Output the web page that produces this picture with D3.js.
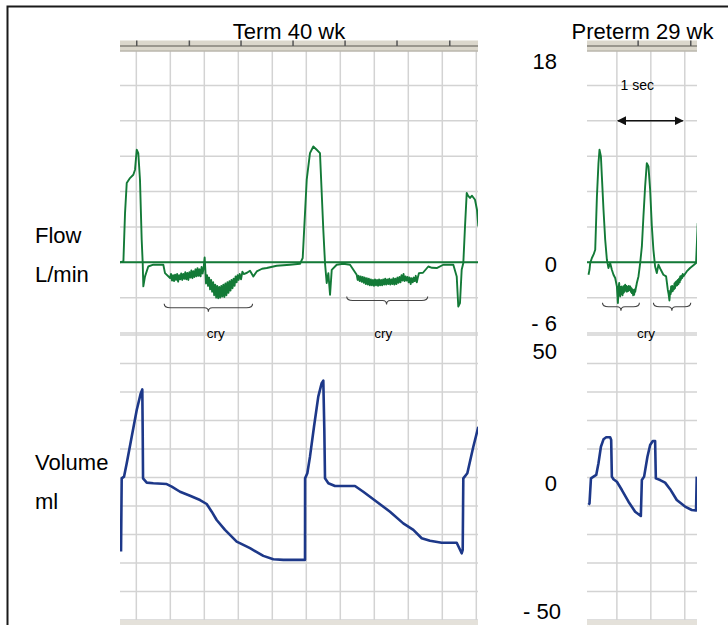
<!DOCTYPE html>
<head>
<meta charset="utf-8">
<style>
    body { margin: 0; background: #fff; }
    text { font-family: "Liberation Sans", Arial, sans-serif; fill: #000; }
    .grid line { stroke: #d3d3d3; stroke-width: 1.5; }
    .flow { fill: none; stroke: #137a37; stroke-width: 1.9; stroke-linejoin: round; }
    .volume { fill: none; stroke: #1d3889; stroke-width: 2.6; stroke-linejoin: round; }
    .brace { fill: none; stroke: #444; stroke-width: 1.1; }
</style>
</head>
<body>
    <script src="https://d3js.org/d3.v7.min.js"></script>
    <script>

    ///////////////////////////
    ////////// DATA ///////////
    ///////////////////////////

    // [time (s), flow (L/min)]
    const termFlow = [
        [-0.24,0],[-0.19,0.07],[-0.166,4.17],[-0.141,6.72],[-0.093,7.14],[-0.044,7.42],[-0.019,7.85],
        [0.006,9.54],[0.029,9.26],[0.054,7.0],[0.079,1.91],[0.094,-0.07],[0.103,-2.05],[0.128,-1.2],
        [0.176,-0.36],[0.25,-0.21],[0.397,-0.21],[0.422,-0.92],[0.496,-1.34],
        [0.51,-1.0],[0.525,-1.55],[0.54,-1.1],[0.555,-1.6],[0.57,-1.05],[0.585,-1.5],[0.6,-1.0],
        [0.615,-1.65],[0.63,-1.1],[0.645,-1.45],[0.66,-0.95],[0.675,-1.5],[0.69,-1.0],[0.705,-1.4],
        [0.72,-0.85],[0.735,-1.45],[0.75,-0.9],[0.765,-1.5],[0.78,-0.85],[0.795,-1.3],[0.81,-0.7],
        [0.825,-1.35],[0.84,-0.75],[0.855,-1.25],[0.87,-0.6],[0.885,-1.2],[0.9,-0.5],[0.915,-1.15],
        [0.93,-0.6],[0.945,-1.2],[0.96,-0.4],[0.975,-0.95],[0.99,-0.5],[1.005,0.4],[1.015,-0.6],
        [1.025,-1.8],[1.04,-1.1],[1.055,-2.0],[1.07,-1.3],[1.085,-2.3],[1.1,-1.5],[1.115,-2.5],
        [1.13,-1.7],[1.145,-2.8],[1.16,-1.9],[1.175,-3.0],[1.19,-2.0],[1.205,-3.05],[1.22,-2.1],
        [1.235,-3.0],[1.25,-2.0],[1.265,-2.9],[1.28,-1.9],[1.295,-2.95],[1.31,-1.8],[1.325,-2.8],
        [1.34,-1.7],[1.355,-2.6],[1.37,-1.6],[1.385,-2.4],[1.4,-1.5],[1.415,-2.2],[1.43,-1.4],
        [1.445,-2.0],[1.46,-1.2],[1.475,-1.7],[1.49,-1.1],[1.505,-1.5],[1.52,-1.0],[1.54,-1.45],
        [1.56,-0.8],[1.58,-1.0],[1.628,-0.89],[1.672,-0.72],[1.721,-1.2],[1.771,-0.78],[1.849,-0.55],
        [1.918,-0.49],[2.065,-0.3],[2.26,-0.21],[2.407,-0.13],[2.447,0.36],[2.506,7.0],[2.554,9.26],
        [2.603,9.82],[2.653,9.54],[2.701,9.26],[2.75,2.76],[2.775,-0.07],[2.8,-1.76],[2.824,-0.92],
        [2.849,-2.76],[2.874,-0.64],[2.947,-0.21],[3.044,-0.13],[3.143,-0.21],[3.241,-1.06],
        [3.255,-1.5],[3.27,-1.15],[3.285,-1.6],[3.3,-1.2],[3.315,-1.65],[3.33,-1.25],[3.345,-1.75],
        [3.36,-1.3],[3.375,-1.85],[3.39,-1.35],[3.405,-1.9],[3.42,-1.4],[3.435,-1.95],[3.45,-1.45],
        [3.465,-1.95],[3.48,-1.5],[3.495,-2.0],[3.51,-1.45],[3.525,-1.95],[3.54,-1.5],[3.555,-2.0],
        [3.57,-1.45],[3.585,-1.95],[3.6,-1.5],[3.615,-1.95],[3.63,-1.45],[3.645,-1.9],[3.66,-1.4],
        [3.675,-1.9],[3.69,-1.45],[3.705,-1.85],[3.72,-1.4],[3.735,-1.9],[3.75,-1.45],[3.765,-1.85],
        [3.78,-1.35],[3.795,-1.9],[3.81,-1.4],[3.825,-1.85],[3.84,-1.3],[3.855,-1.75],[3.87,-1.25],
        [3.885,-1.7],[3.9,-1.1],[3.915,-1.55],[3.93,-1.0],[3.945,-1.6],[3.96,-1.2],[3.975,-1.55],
        [3.99,-1.25],[4.005,-1.7],[4.02,-1.3],[4.035,-1.85],[4.05,-1.35],[4.065,-1.7],[4.08,-1.3],
        [4.095,-1.6],[4.11,-1.15],[4.125,-1.7],[4.14,-1.3],[4.157,-0.92],
        [4.216,-0.89],[4.294,-0.36],[4.349,-0.47],[4.418,-0.49],[4.515,-0.21],[4.662,-0.21],
        [4.712,-1.2],[4.735,-3.75],[4.76,-3.46],[4.785,-0.64],[4.809,-0.07],[4.834,3.04],[4.859,5.87],
        [4.878,5.64],[4.907,5.45],[4.937,5.64],[4.981,5.3],[5.01,4.45],[5.03,3.04]
    ];

    const pretermFlow = [
        [-0.418,-1.06],[-0.403,-0.64],[-0.393,-0.07],[-0.368,0.36],[-0.344,0.64],[-0.319,1.06],
        [-0.294,5.58],[-0.271,8.41],[-0.256,9.54],[-0.235,8.97],[-0.221,7.28],[-0.197,4.45],
        [-0.172,1.91],[-0.147,0.21],[-0.124,-0.49],[-0.099,-0.07],[-0.074,-0.64],[-0.05,-1.06],
        [-0.025,-1.34],[0,-2.05],[0.015,-3.46],[0.025,-2.2],[0.034,-1.76],[0.042,-2.6],[0.049,-2.9],
        [0.058,-2.1],[0.066,-2.7],[0.074,-2.05],[0.083,-2.8],[0.09,-2.2],[0.097,-2.61],[0.105,-2.0],
        [0.113,-2.5],[0.122,-1.91],[0.13,-2.4],[0.14,-2.0],[0.148,-2.5],[0.156,-2.1],[0.165,-2.45],
        [0.175,-2.0],[0.185,-2.35],[0.196,-2.05],[0.205,-2.5],[0.213,-2.2],[0.221,-2.61],[0.23,-2.3],
        [0.24,-2.8],[0.247,-2.4],[0.254,-2.76],[0.263,-2.3],[0.27,-2.5],[0.279,-2.19],[0.287,-2.0],
        [0.294,-1.76],[0.318,-1.2],[0.343,-0.07],[0.368,1.34],[0.391,3.88],[0.416,6.43],[0.441,8.41],
        [0.465,8.13],[0.49,6.15],[0.515,3.04],[0.538,1.06],[0.563,-0.36],[0.588,-0.92],[0.612,-0.21],
        [0.647,-0.64],[0.685,-1.06],[0.725,-1.2],[0.75,-2.33],[0.762,-2.7],[0.774,-3.24],[0.785,-2.4],
        [0.792,-2.7],[0.799,-2.05],[0.808,-2.5],[0.815,-2.0],[0.823,-2.45],[0.832,-2.1],[0.84,-2.3],
        [0.848,-1.8],[0.856,-2.2],[0.864,-1.7],[0.872,-2.0],[0.88,-1.6],[0.89,-1.95],[0.898,-1.5],
        [0.906,-1.85],[0.915,-1.4],[0.925,-1.7],[0.933,-1.2],[0.941,-1.5],[0.95,-1.15],[0.96,-1.35],
        [0.97,-1.0],[0.979,-1.2],[1.029,-0.78],[1.078,-0.49],[1.137,-0.21],[1.166,-0.07],[1.191,3.32]
    ];

    // [time (s), volume (ml)]
    const termVolume = [
        [-0.225,-26.0],[-0.215,-0.3],[-0.181,0.3],[-0.141,5.0],[-0.068,14.3],[0.006,23.7],[0.065,29.5],
        [0.088,30.9],[0.094,15.5],[0.099,-0.3],[0.153,-1.8],[0.25,-2.0],[0.447,-2.3],[0.521,-3.2],
        [0.643,-5.0],[0.79,-6.4],[0.937,-7.9],[1.035,-9.3],[1.109,-12.0],[1.182,-14.9],[1.304,-18.4],
        [1.476,-22.5],[1.672,-24.8],[1.868,-27.5],[2.015,-28.7],[2.162,-28.9],[2.481,-28.9],[2.482,-0.3],
        [2.515,1.5],[2.554,7.3],[2.613,17.8],[2.676,28.4],[2.726,33.1],[2.75,34.0],[2.765,16.7],
        [2.775,-0.3],[2.824,-2.0],[2.922,-3.0],[3.216,-3.0],[3.338,-5.0],[3.535,-8.5],[3.731,-12.0],
        [3.926,-16.1],[4.074,-18.4],[4.197,-21.3],[4.319,-22.2],[4.491,-22.9],[4.712,-22.9],[4.785,-26.6],
        [4.8,-25.4],[4.809,-0.3],[4.868,1.5],[4.956,10.8],[5.03,17.8]
    ];

    const pretermVolume = [
        [-0.418,-9.6],[-0.403,-9.1],[-0.382,-0.3],[-0.344,0.3],[-0.304,0.9],[-0.271,5.0],[-0.235,10.8],
        [-0.197,13.4],[-0.157,14.1],[-0.099,14.1],[-0.084,13.2],[-0.074,0.3],[-0.05,-0.6],[0,-1.5],
        [0.074,-4.4],[0.171,-8.5],[0.269,-12.0],[0.353,-13.5],[0.368,-0.9],[0.401,0.3],[0.45,7.3],
        [0.49,11.4],[0.529,12.8],[0.563,12.8],[0.574,-0.3],[0.637,-0.9],[0.71,-1.8],[0.784,-4.1],
        [0.882,-7.9],[1.004,-10.2],[1.103,-11.4],[1.166,-11.6],[1.176,0.3]
    ];

    const flowGridValues = [-6, -3, 0, 3, 6, 9, 12, 15, 18];
    const volumeGridValues = [-50, -40, -30, -20, -10, 0, 10, 20, 30, 40, 50];
    const flowTickLabels = [18, 0, -6];
    const volumeTickLabels = [50, 0, -50];

    const termTimeGrid = [0, 0.5, 1, 1.5, 2, 2.5, 3, 3.5, 4, 4.5, 5];
    const pretermTimeGrid = [0, 0.5, 1];
    const termRulerTicks = [0.006, 0.78, 1.54, 2.305, 3.07, 3.834, 4.61];
    const pretermRulerTicks = [0.313, 1.088];

    // brace annotations: start, end, tip (s), flow level of the brace
    const termBraces = [[0.41, 1.71, 1.06, -3.52], [3.094, 4.285, 3.68, -2.9]];
    const pretermBraces = [[-0.212, 0.332, 0.06, -3.43], [0.538, 1.088, 0.81, -3.43]];
    const termCry = [1.168, 3.63];
    const pretermCry = [0.43];

    ///////////////////////////
    ////////// SETUP //////////
    ///////////////////////////

    const width = 728, height = 625;

    let svg = d3.select('body').append('svg')
        .attr('width', width)
        .attr('height', height);

    const yFlow = d3.scaleLinear().domain([-6, 18]).range([333, 50]);
    const yVol = d3.scaleLinear().domain([-50, 50]).range([620, 335]);

    const panels = [
        { id: 'term', title: 'Term 40 wk', titleX: 289,
          x: d3.scaleLinear().domain([-0.24, 5.025]).range([120, 478]),
          grid: termTimeGrid, ruler: termRulerTicks, flow: termFlow, volume: termVolume,
          braces: termBraces, cry: termCry },
        { id: 'preterm', title: 'Preterm 29 wk', titleX: 642.5,
          x: d3.scaleLinear().domain([-0.44, 1.18]).range([587, 697]),
          grid: pretermTimeGrid, ruler: pretermRulerTicks, flow: pretermFlow, volume: pretermVolume,
          braces: pretermBraces, cry: pretermCry }
    ];

    let defs = svg.append('defs');
    defs.append('marker')
        .attr('id', 'head')
        .attr('viewBox', '0 0 10 10')
        .attr('refX', 9).attr('refY', 5)
        .attr('markerWidth', 9).attr('markerHeight', 9)
        .attr('markerUnits', 'userSpaceOnUse')
        .attr('orient', 'auto-start-reverse')
        .append('path').attr('d', 'M0,0 L10,5 L0,10 z').attr('fill', '#111');

    // outer frame (left and top edges)
    svg.append('path')
        .attr('d', 'M7.5,' + height + ' V6.5 H' + width)
        .attr('fill', 'none').attr('stroke', '#1a1a1a').attr('stroke-width', 2);

    ////////////////////////////
    ////////// PANELS //////////
    ////////////////////////////

    panels.forEach(p => {
        const x = p.x;
        const [x0, x1] = x.range();
        let g = svg.append('g');

        defs.append('clipPath').attr('id', 'clip-' + p.id)
            .append('rect').attr('x', x0).attr('y', 50).attr('width', x1 - x0).attr('height', 570);

        // grid
        let grid = g.append('g').attr('class', 'grid');
        grid.selectAll('.v').data(p.grid).enter().append('line')
            .attr('x1', d => x(d)).attr('x2', d => x(d))
            .attr('y1', 50).attr('y2', 620);
        grid.selectAll('.hf').data(flowGridValues).enter().append('line')
            .attr('x1', x0).attr('x2', x1)
            .attr('y1', d => yFlow(d)).attr('y2', d => yFlow(d));
        grid.selectAll('.hv').data(volumeGridValues).enter().append('line')
            .attr('x1', x0).attr('x2', x1)
            .attr('y1', d => yVol(d)).attr('y2', d => yVol(d));

        // ruler bar on top, footer strip
        g.append('rect').attr('x', x0).attr('y', 40.5).attr('width', x1 - x0).attr('height', 11)
            .attr('fill', '#dbd7cc');
        g.append('line').attr('x1', x0).attr('x2', x1).attr('y1', 46).attr('y2', 46)
            .attr('stroke', '#85827a').attr('stroke-width', 1.5);
        g.append('line').attr('x1', x0).attr('x2', x1).attr('y1', 51).attr('y2', 51)
            .attr('stroke', '#a9a69d').attr('stroke-width', 1);
        g.selectAll('.rt').data(p.ruler).enter().append('line')
            .attr('x1', d => x(d)).attr('x2', d => x(d))
            .attr('y1', 40.5).attr('y2', 46)
            .attr('stroke', '#555').attr('stroke-width', 1.5);
        g.append('rect').attr('x', x0).attr('y', 620).attr('width', x1 - x0).attr('height', 5)
            .attr('fill', '#e4e1da');

        g.append('text').attr('x', p.titleX).attr('y', 38.5)
            .attr('text-anchor', 'middle').attr('font-size', 22).text(p.title);

        // zero flow line
        g.append('line').attr('x1', x0).attr('x2', x1)
            .attr('y1', yFlow(0)).attr('y2', yFlow(0))
            .attr('stroke', '#137a37').attr('stroke-width', 2.2);

        let traces = g.append('g').attr('clip-path', 'url(#clip-' + p.id + ')');
        traces.append('path').attr('class', 'flow')
            .attr('d', d3.line().x(d => x(d[0])).y(d => yFlow(d[1]))(p.flow));
        traces.append('path').attr('class', 'volume')
            .attr('d', d3.line().x(d => x(d[0])).y(d => yVol(d[1]))(p.volume));

        // braces under the crying segments
        g.selectAll('.brace').data(p.braces).enter().append('path')
            .attr('class', 'brace')
            .attr('d', d => {
                const a = x(d[0]), b = x(d[1]), m = x(d[2]), y = yFlow(d[3]);
                return 'M' + a + ',' + y + ' Q' + a + ',' + (y + 4) + ' ' + (a + 6) + ',' + (y + 4)
                    + ' L' + (m - 4) + ',' + (y + 4) + ' Q' + m + ',' + (y + 4) + ' ' + m + ',' + (y + 8)
                    + ' Q' + m + ',' + (y + 4) + ' ' + (m + 4) + ',' + (y + 4)
                    + ' L' + (b - 6) + ',' + (y + 4) + ' Q' + b + ',' + (y + 4) + ' ' + b + ',' + y;
            });
        g.selectAll('.cry').data(p.cry).enter().append('text')
            .attr('x', d => x(d)).attr('y', 338)
            .attr('text-anchor', 'middle').attr('font-size', 13.5).text('cry');
    });

    //////////////////////////////
    ////////// LABELS ////////////
    //////////////////////////////

    const flowNudge = [11, 2, -10];
    const volNudge = [16.5, 6, -8.5];
    const fmt = v => v < 0 ? '- ' + Math.abs(v) : String(v);

    svg.selectAll('.fl').data(flowTickLabels).enter().append('text')
        .attr('x', 557).attr('y', (d, i) => yFlow(d) + flowNudge[i])
        .attr('dy', '0.35em').attr('text-anchor', 'end').attr('font-size', 22)
        .text(fmt);
    svg.selectAll('.vl').data(volumeTickLabels).enter().append('text')
        .attr('x', (d, i) => i == 2 ? 561 : 557).attr('y', (d, i) => yVol(d) + volNudge[i])
        .attr('dy', '0.35em').attr('text-anchor', 'end').attr('font-size', 22)
        .text(fmt);

    [['Flow', 243], ['L/min', 281.5], ['Volume', 469.5], ['ml', 508.5]].forEach(l => {
        svg.append('text').attr('x', 35).attr('y', l[1]).attr('font-size', 22).text(l[0]);
    });

    // 1 sec scale arrow
    const px = panels[1].x;
    svg.append('line')
        .attr('x1', px(0) + 1).attr('x2', px(0.97))
        .attr('y1', yFlow(12)).attr('y2', yFlow(12))
        .attr('stroke', '#111').attr('stroke-width', 1.5)
        .attr('marker-start', 'url(#head)').attr('marker-end', 'url(#head)');
    svg.append('text').attr('x', px(0.3)).attr('y', 90)
        .attr('text-anchor', 'middle').attr('font-size', 14).text('1 sec');

    </script>
</body>
